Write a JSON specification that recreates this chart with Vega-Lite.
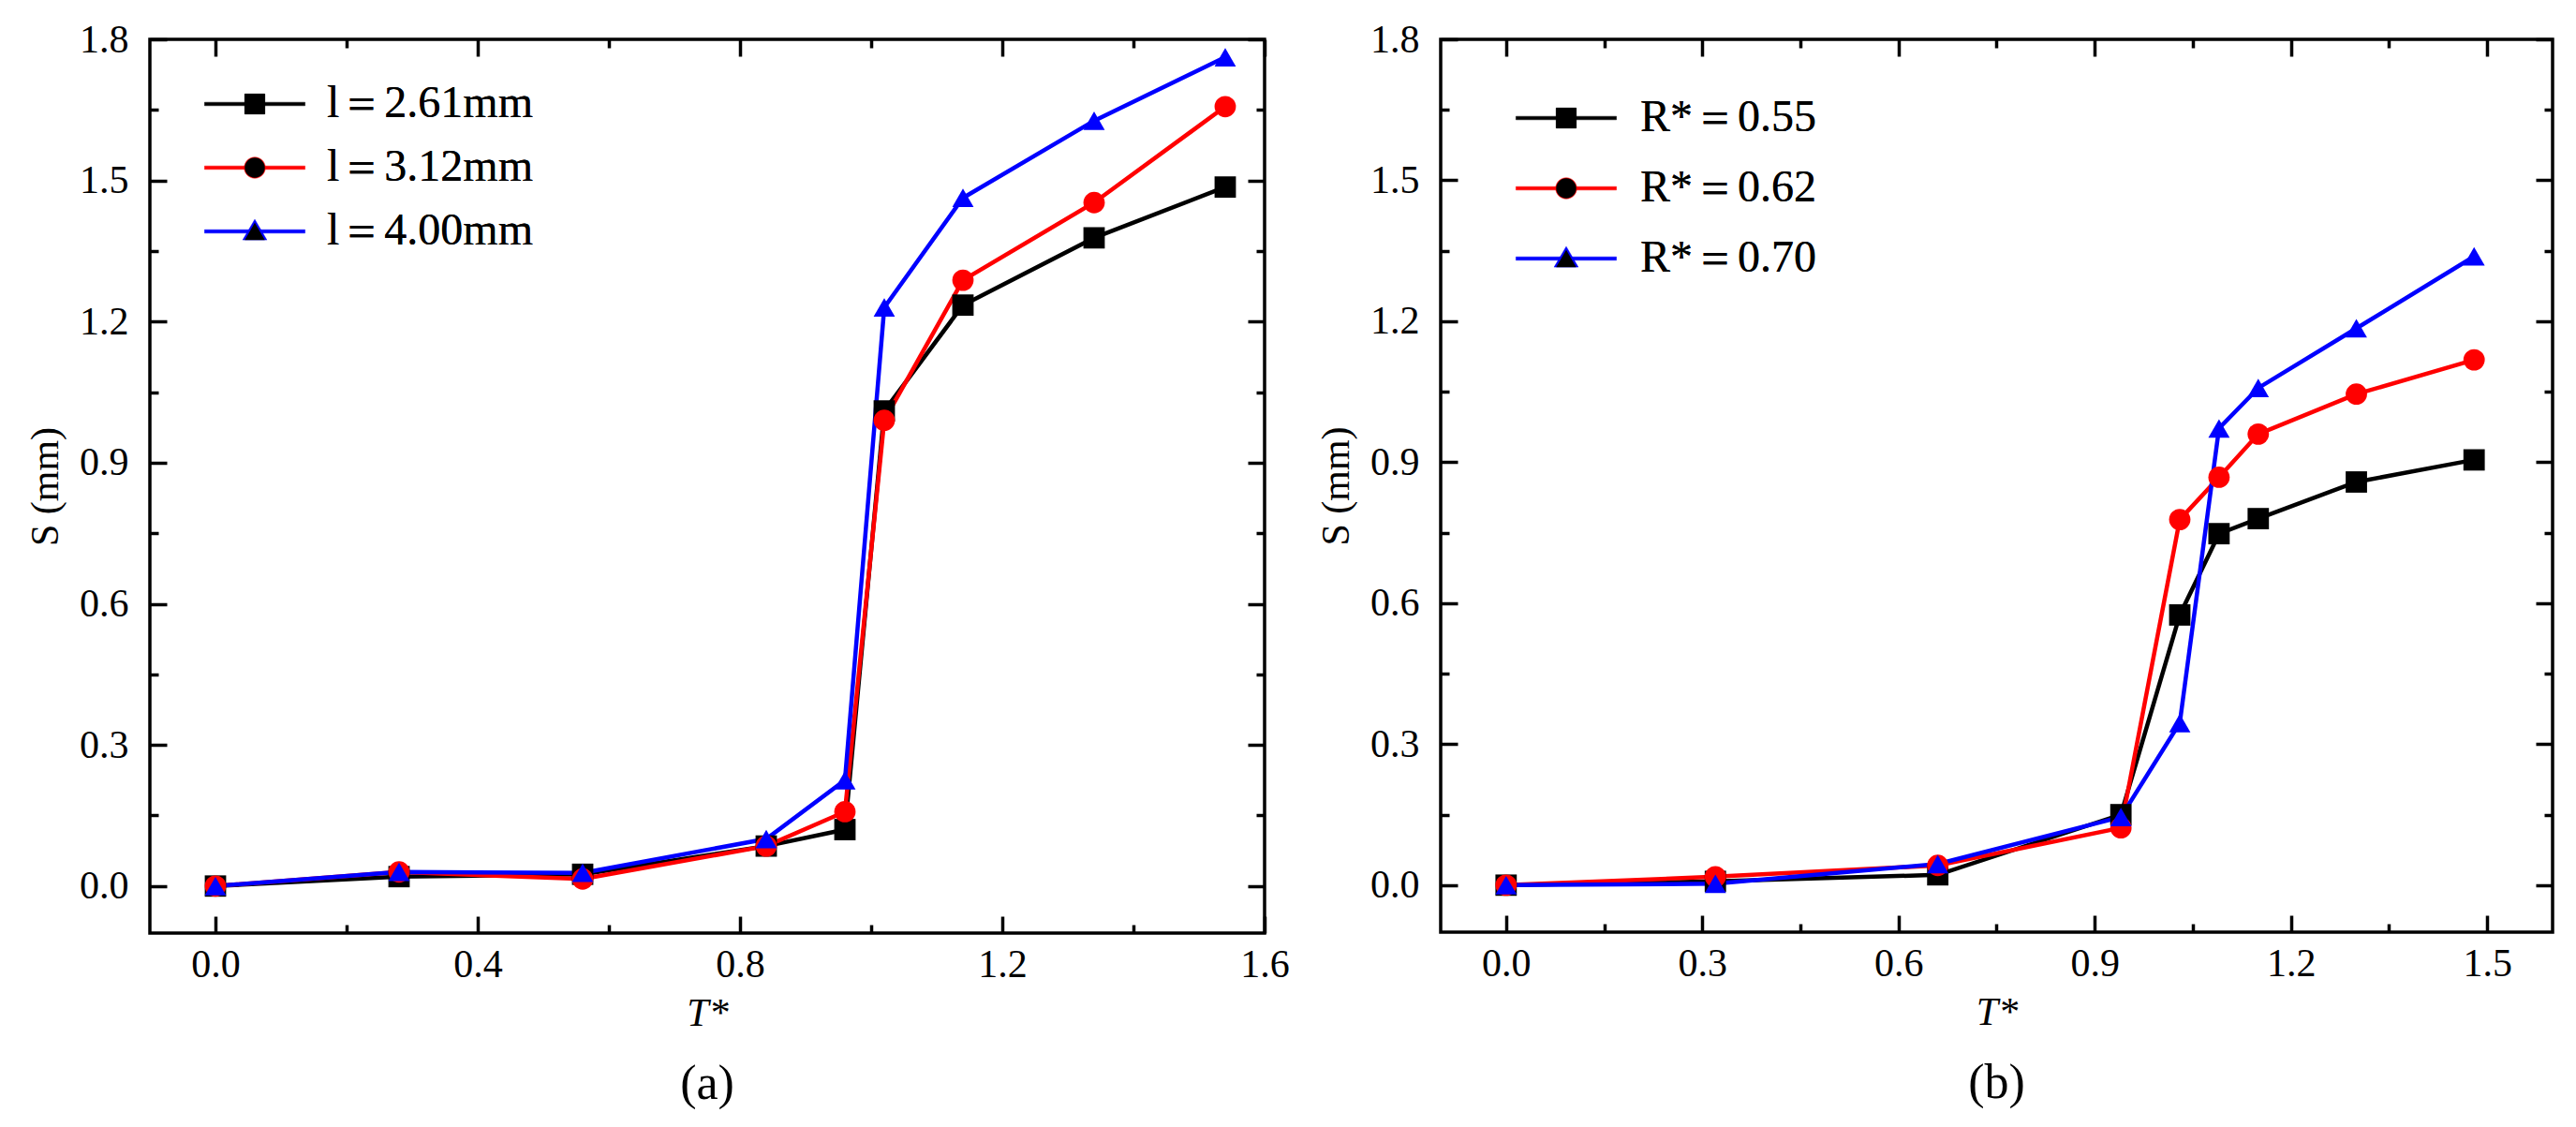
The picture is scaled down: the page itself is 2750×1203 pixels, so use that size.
{
  "$schema": "https://vega.github.io/schema/vega-lite/v6.json",
  "background": "white",
  "padding": {"left": 25, "top": 19, "right": 10, "bottom": 0},
  "config": {
    "font": "Liberation Serif, serif",
    "view": {"stroke": "black", "strokeWidth": 3.5},
    "axis": {
      "domain": false,
      "grid": false,
      "labelFont": "Liberation Serif, serif",
      "labelFontSize": 42,
      "labelColor": "black",
      "labelFlush": false,
      "labelOverlap": false,
      "titleFont": "Liberation Serif, serif",
      "titleFontSize": 42,
      "titleFontWeight": "normal",
      "titleColor": "black",
      "tickColor": "black",
      "tickWidth": 3.5,
      "minExtent": 0
    },
    "title": {"font": "Liberation Serif, serif", "fontSize": 52, "fontWeight": "normal", "color": "black"}
  },
  "spacing": 25,
  "hconcat": [
    {
      "width": 1190,
      "height": 954,
      "title": {"text": "(a)", "orient": "bottom", "frame": "group", "anchor": "middle", "offset": 30},
      "data": {
        "values": [
          {"T": 0, "S": 0, "series": "l＝2.61mm"},
          {"T": 0.28, "S": 0.02, "series": "l＝2.61mm"},
          {"T": 0.56, "S": 0.025, "series": "l＝2.61mm"},
          {"T": 0.84, "S": 0.085, "series": "l＝2.61mm"},
          {"T": 0.96, "S": 0.12, "series": "l＝2.61mm"},
          {"T": 1.02, "S": 1.01, "series": "l＝2.61mm"},
          {"T": 1.14, "S": 1.235, "series": "l＝2.61mm"},
          {"T": 1.34, "S": 1.378, "series": "l＝2.61mm"},
          {"T": 1.54, "S": 1.486, "series": "l＝2.61mm"},
          {"T": 0, "S": 0, "series": "l＝3.12mm"},
          {"T": 0.28, "S": 0.03, "series": "l＝3.12mm"},
          {"T": 0.56, "S": 0.015, "series": "l＝3.12mm"},
          {"T": 0.84, "S": 0.085, "series": "l＝3.12mm"},
          {"T": 0.96, "S": 0.158, "series": "l＝3.12mm"},
          {"T": 1.02, "S": 0.99, "series": "l＝3.12mm"},
          {"T": 1.14, "S": 1.288, "series": "l＝3.12mm"},
          {"T": 1.34, "S": 1.453, "series": "l＝3.12mm"},
          {"T": 1.54, "S": 1.657, "series": "l＝3.12mm"},
          {"T": 0, "S": 0, "series": "l＝4.00mm"},
          {"T": 0.28, "S": 0.03, "series": "l＝4.00mm"},
          {"T": 0.56, "S": 0.028, "series": "l＝4.00mm"},
          {"T": 0.84, "S": 0.1, "series": "l＝4.00mm"},
          {"T": 0.96, "S": 0.225, "series": "l＝4.00mm"},
          {"T": 1.02, "S": 1.23, "series": "l＝4.00mm"},
          {"T": 1.14, "S": 1.463, "series": "l＝4.00mm"},
          {"T": 1.34, "S": 1.627, "series": "l＝4.00mm"},
          {"T": 1.54, "S": 1.762, "series": "l＝4.00mm"}
        ]
      },
      "layer": [
        {
          "mark": {"type": "line", "strokeWidth": 4.5, "point": {"filled": true, "size": 520, "opacity": 1}},
          "encoding": {
            "x": {
              "field": "T", "type": "quantitative",
              "scale": {"domain": [-0.1, 1.6], "nice": false, "zero": false},
              "axis": {
                "values": [0, 0.2, 0.4, 0.6, 0.8, 1.0, 1.2, 1.4, 1.6],
                "labelExpr": "round(datum.value*10) % 4 == 0 ? format(datum.value, '.1f') : ''",
                "tickSize": {"condition": {"test": "round(datum.value*10) % 4 == 0", "value": -18}, "value": -9},
                "labelPadding": 31,
                "title": "T*",
                "titleFontStyle": "italic",
                "titlePadding": 2
              }
            },
            "y": {
              "field": "S", "type": "quantitative",
              "scale": {"domain": [-0.1, 1.8], "nice": false, "zero": false},
              "axis": {
                "values": [0, 0.15, 0.3, 0.45, 0.6, 0.75, 0.9, 1.05, 1.2, 1.35, 1.5, 1.65, 1.8],
                "labelExpr": "round(datum.value*20) % 6 == 0 ? format(datum.value, '.1f') : ''",
                "tickSize": {"condition": {"test": "round(datum.value*20) % 6 == 0", "value": -18}, "value": -9},
                "labelPadding": 41,
                "title": "S (mm)",
                "titlePadding": 14
              }
            },
            "color": {
              "field": "series", "type": "nominal",
              "scale": {"range": ["#000000", "#ff0000", "#0000ff"]},
              "legend": {
                "orient": "none", "legendX": 88, "legendY": 45, "title": null, "padding": 0,
                "labelFont": "Liberation Serif, serif", "labelFontSize": 48, "labelColor": "black", "labelLimit": 600,
                "symbolSize": 460, "labelOffset": 53, "rowPadding": 20,
                "encode": {"symbols": {"update": {
                  "shape": {"signal": "['M-5,-0.17H5V0.17H-5Z M-1,-1H1V1H-1Z', 'M-5,-0.17H5V0.17H-5Z M1.05,0A1.05,1.05 0 1,1 -1.05,0A1.05,1.05 0 1,1 1.05,0Z', 'M-5,-0.17H5V0.17H-5Z M0,-1.2L1.2,0.85L-1.2,0.85Z'][datum.index]"},
                  "fill": {"signal": "['#000000', '#ff0000', '#0000ff'][datum.index]"},
                  "stroke": {"signal": "['#000000', '#ff0000', '#0000ff'][datum.index]"},
                  "strokeWidth": {"value": 0.5},
                  "opacity": {"value": 1}
                }}}
              }
            },
            "shape": {
              "field": "series", "type": "nominal",
              "scale": {"range": ["square", "circle", "triangle-up"]},
              "legend": {
                "orient": "none", "legendX": 88, "legendY": 45, "title": null, "padding": 0,
                "labelFont": "Liberation Serif, serif", "labelFontSize": 48, "labelColor": "black", "labelLimit": 600,
                "symbolSize": 460, "labelOffset": 53, "rowPadding": 20,
                "encode": {"symbols": {"update": {
                  "shape": {"signal": "['M-5,-0.17H5V0.17H-5Z M-1,-1H1V1H-1Z', 'M-5,-0.17H5V0.17H-5Z M1.05,0A1.05,1.05 0 1,1 -1.05,0A1.05,1.05 0 1,1 1.05,0Z', 'M-5,-0.17H5V0.17H-5Z M0,-1.2L1.2,0.85L-1.2,0.85Z'][datum.index]"},
                  "fill": {"signal": "['#000000', '#ff0000', '#0000ff'][datum.index]"},
                  "stroke": {"signal": "['#000000', '#ff0000', '#0000ff'][datum.index]"},
                  "strokeWidth": {"value": 0.5},
                  "opacity": {"value": 1}
                }}}
              }
            }
          }
        },
        {
          "mark": {"type": "point", "opacity": 0},
          "encoding": {
            "x": {
              "field": "T", "type": "quantitative",
              "axis": {
                "orient": "top", "labels": false, "title": null,
                "values": [0, 0.2, 0.4, 0.6, 0.8, 1.0, 1.2, 1.4, 1.6],
                "tickSize": {"condition": {"test": "round(datum.value*10) % 4 == 0", "value": -18}, "value": -9}
              }
            },
            "y": {
              "field": "S", "type": "quantitative",
              "axis": {
                "orient": "right", "labels": false, "title": null,
                "values": [0, 0.15, 0.3, 0.45, 0.6, 0.75, 0.9, 1.05, 1.2, 1.35, 1.5, 1.65, 1.8],
                "tickSize": {"condition": {"test": "round(datum.value*20) % 6 == 0", "value": -18}, "value": -9}
              }
            }
          }
        }
      ],
      "resolve": {"axis": {"x": "independent", "y": "independent"}}
    },
    {
      "width": 1187,
      "height": 953,
      "title": {"text": "(b)", "orient": "bottom", "frame": "group", "anchor": "middle", "offset": 30},
      "data": {
        "values": [
          {"T": 0, "S": 0, "series": "R*＝0.55"},
          {"T": 0.32, "S": 0.008, "series": "R*＝0.55"},
          {"T": 0.66, "S": 0.022, "series": "R*＝0.55"},
          {"T": 0.94, "S": 0.15, "series": "R*＝0.55"},
          {"T": 1.03, "S": 0.575, "series": "R*＝0.55"},
          {"T": 1.09, "S": 0.748, "series": "R*＝0.55"},
          {"T": 1.15, "S": 0.78, "series": "R*＝0.55"},
          {"T": 1.3, "S": 0.858, "series": "R*＝0.55"},
          {"T": 1.48, "S": 0.905, "series": "R*＝0.55"},
          {"T": 0, "S": 0, "series": "R*＝0.62"},
          {"T": 0.32, "S": 0.018, "series": "R*＝0.62"},
          {"T": 0.66, "S": 0.042, "series": "R*＝0.62"},
          {"T": 0.94, "S": 0.122, "series": "R*＝0.62"},
          {"T": 1.03, "S": 0.778, "series": "R*＝0.62"},
          {"T": 1.09, "S": 0.868, "series": "R*＝0.62"},
          {"T": 1.15, "S": 0.96, "series": "R*＝0.62"},
          {"T": 1.3, "S": 1.045, "series": "R*＝0.62"},
          {"T": 1.48, "S": 1.118, "series": "R*＝0.62"},
          {"T": 0, "S": 0, "series": "R*＝0.70"},
          {"T": 0.32, "S": 0.003, "series": "R*＝0.70"},
          {"T": 0.66, "S": 0.045, "series": "R*＝0.70"},
          {"T": 0.94, "S": 0.145, "series": "R*＝0.70"},
          {"T": 1.03, "S": 0.345, "series": "R*＝0.70"},
          {"T": 1.09, "S": 0.972, "series": "R*＝0.70"},
          {"T": 1.15, "S": 1.058, "series": "R*＝0.70"},
          {"T": 1.3, "S": 1.185, "series": "R*＝0.70"},
          {"T": 1.48, "S": 1.338, "series": "R*＝0.70"}
        ]
      },
      "layer": [
        {
          "mark": {"type": "line", "strokeWidth": 4.5, "point": {"filled": true, "size": 520, "opacity": 1}},
          "encoding": {
            "x": {
              "field": "T", "type": "quantitative",
              "scale": {"domain": [-0.1, 1.6], "nice": false, "zero": false},
              "axis": {
                "values": [0, 0.15, 0.3, 0.45, 0.6, 0.75, 0.9, 1.05, 1.2, 1.35, 1.5],
                "labelExpr": "round(datum.value*20) % 6 == 0 ? format(datum.value, '.1f') : ''",
                "tickSize": {"condition": {"test": "round(datum.value*20) % 6 == 0", "value": -18}, "value": -9},
                "labelPadding": 31,
                "title": "T*",
                "titleFontStyle": "italic",
                "titlePadding": 2
              }
            },
            "y": {
              "field": "S", "type": "quantitative",
              "scale": {"domain": [-0.1, 1.8], "nice": false, "zero": false},
              "axis": {
                "values": [0, 0.15, 0.3, 0.45, 0.6, 0.75, 0.9, 1.05, 1.2, 1.35, 1.5, 1.65, 1.8],
                "labelExpr": "round(datum.value*20) % 6 == 0 ? format(datum.value, '.1f') : ''",
                "tickSize": {"condition": {"test": "round(datum.value*20) % 6 == 0", "value": -18}, "value": -9},
                "labelPadding": 41,
                "title": "S (mm)",
                "titlePadding": 14
              }
            },
            "color": {
              "field": "series", "type": "nominal",
              "scale": {"range": ["#000000", "#ff0000", "#0000ff"]},
              "legend": {
                "orient": "none", "legendX": 110, "legendY": 60, "title": null, "padding": 0,
                "labelFont": "Liberation Serif, serif", "labelFontSize": 48, "labelColor": "black", "labelLimit": 600,
                "symbolSize": 460, "labelOffset": 55, "rowPadding": 27,
                "encode": {"symbols": {"update": {
                  "shape": {"signal": "['M-5,-0.17H5V0.17H-5Z M-1,-1H1V1H-1Z', 'M-5,-0.17H5V0.17H-5Z M1.05,0A1.05,1.05 0 1,1 -1.05,0A1.05,1.05 0 1,1 1.05,0Z', 'M-5,-0.17H5V0.17H-5Z M0,-1.2L1.2,0.85L-1.2,0.85Z'][datum.index]"},
                  "fill": {"signal": "['#000000', '#ff0000', '#0000ff'][datum.index]"},
                  "stroke": {"signal": "['#000000', '#ff0000', '#0000ff'][datum.index]"},
                  "strokeWidth": {"value": 0.5},
                  "opacity": {"value": 1}
                }}}
              }
            },
            "shape": {
              "field": "series", "type": "nominal",
              "scale": {"range": ["square", "circle", "triangle-up"]},
              "legend": {
                "orient": "none", "legendX": 110, "legendY": 60, "title": null, "padding": 0,
                "labelFont": "Liberation Serif, serif", "labelFontSize": 48, "labelColor": "black", "labelLimit": 600,
                "symbolSize": 460, "labelOffset": 55, "rowPadding": 27,
                "encode": {"symbols": {"update": {
                  "shape": {"signal": "['M-5,-0.17H5V0.17H-5Z M-1,-1H1V1H-1Z', 'M-5,-0.17H5V0.17H-5Z M1.05,0A1.05,1.05 0 1,1 -1.05,0A1.05,1.05 0 1,1 1.05,0Z', 'M-5,-0.17H5V0.17H-5Z M0,-1.2L1.2,0.85L-1.2,0.85Z'][datum.index]"},
                  "fill": {"signal": "['#000000', '#ff0000', '#0000ff'][datum.index]"},
                  "stroke": {"signal": "['#000000', '#ff0000', '#0000ff'][datum.index]"},
                  "strokeWidth": {"value": 0.5},
                  "opacity": {"value": 1}
                }}}
              }
            }
          }
        },
        {
          "mark": {"type": "point", "opacity": 0},
          "encoding": {
            "x": {
              "field": "T", "type": "quantitative",
              "axis": {
                "orient": "top", "labels": false, "title": null,
                "values": [0, 0.15, 0.3, 0.45, 0.6, 0.75, 0.9, 1.05, 1.2, 1.35, 1.5],
                "tickSize": {"condition": {"test": "round(datum.value*20) % 6 == 0", "value": -18}, "value": -9}
              }
            },
            "y": {
              "field": "S", "type": "quantitative",
              "axis": {
                "orient": "right", "labels": false, "title": null,
                "values": [0, 0.15, 0.3, 0.45, 0.6, 0.75, 0.9, 1.05, 1.2, 1.35, 1.5, 1.65, 1.8],
                "tickSize": {"condition": {"test": "round(datum.value*20) % 6 == 0", "value": -18}, "value": -9}
              }
            }
          }
        }
      ],
      "resolve": {"axis": {"x": "independent", "y": "independent"}}
    }
  ],
  "resolve": {
    "scale": {"x": "independent", "y": "independent", "color": "independent", "shape": "independent"},
    "legend": {"color": "independent", "shape": "independent"}
  }
}
